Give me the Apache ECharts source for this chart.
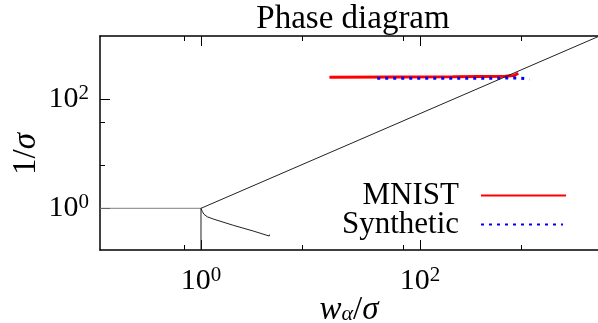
<!DOCTYPE html>
<html>
<head>
<meta charset="utf-8">
<script src="https://cdn.jsdelivr.net/npm/echarts@6/dist/echarts.min.js"></script>
<style>
  html, body { margin: 0; padding: 0; background: #fff; }
  #chart { width: 598px; height: 323px; }
</style>
</head>
<body>
<div id="chart"></div>
<script>
const FONT = '"Liberation Serif", "Times New Roman", serif';

// Phase boundary: upper branch leaving the critical point
const upperX = [1, 4223];
const upperY = [1, 1410];
// Flat branch left of the critical point
const flatX = [0.1196, 1];
const flatY = [1, 1];
// Vertical branch at w/sigma = 1
const vertX = [1, 1];
const vertY = [1, 0.1718];
// Lower branch
const lowerX = [1, 1.03, 1.065, 1.14, 1.29, 1.97, 3.0, 4.2, 4.23];
const lowerY = [1, 0.867, 0.776, 0.70, 0.637, 0.488, 0.383, 0.31, 0.33];

// Measured trajectories
const mnistX = [14.9, 200, 600, 720, 790];
const mnistY = [253, 258, 266, 272, 300];
const synthX = [40.7, 300, 800, 900, 996];
const synthY = [243, 244, 245, 240, 232];

// Axis ranges and ticks
const xRange = [0.1196, 4223];
const yRange = [0.1718, 1450];
const xMajorTicks = [1, 100];
const xMinorTicks = [0.70, 8.36, 70, 836];
const yMajorTicks = [1, 100];
const yMinorTicks = [6.23, 38.3];

const zip = (xs, ys) => xs.map((x, i) => [x, ys[i]]);

const powLabel = v => '{b|10}{e|' + Math.round(Math.log10(v)) + '}';
const powRich = {
  b: { fontFamily: FONT, fontSize: 30, lineHeight: 32, color: '#000' },
  e: { fontFamily: FONT, fontSize: 21, lineHeight: 18, verticalAlign: 'top', color: '#000' }
};

const frame = { show: true, lineStyle: { color: '#000', width: 1.5 } };

function xAxisDef(pos, ticks, len, withLine, withLabels) {
  const ax = {
    type: 'log', logBase: 10, min: xRange[0], max: xRange[1],
    position: pos, gridIndex: 0,
    axisLine: withLine ? frame : { show: false },
    axisTick: { show: true, inside: true, length: len, customValues: ticks,
                lineStyle: { color: '#000', width: 1 } },
    axisLabel: { show: false },
    splitLine: { show: false }, minorTick: { show: false }
  };
  if (withLabels) {
    ax.axisLabel = { show: true, customValues: ticks, formatter: powLabel,
                     rich: powRich, margin: 15 };
    ax.name = '{i|w}{s|α}{n|/}{i|σ}';
    ax.nameLocation = 'middle';
    ax.nameGap = 45;
    ax.nameMoveOverlap = false;
    ax.nameTextStyle = {
      rich: {
        i: { fontFamily: FONT, fontStyle: 'italic', fontSize: 33, lineHeight: 30, color: '#000' },
        n: { fontFamily: FONT, fontSize: 33, lineHeight: 30, color: '#000' },
        s: { fontFamily: FONT, fontStyle: 'italic', fontSize: 22, lineHeight: 18, verticalAlign: 'bottom', color: '#000' }
      }
    };
  }
  return ax;
}

function yAxisDef(ticks, len, withLine, withLabels) {
  const ax = {
    type: 'log', logBase: 10, min: yRange[0], max: yRange[1],
    position: 'left', gridIndex: 0,
    axisLine: withLine ? frame : { show: false },
    axisTick: { show: true, inside: true, length: len, customValues: ticks,
                lineStyle: { color: '#000', width: 1 } },
    axisLabel: { show: false },
    splitLine: { show: false }, minorTick: { show: false }
  };
  if (withLabels) {
    ax.axisLabel = { show: true, customValues: ticks, formatter: powLabel,
                     rich: powRich, margin: 11 };
    ax.name = '{n|1/}{i|σ}';
    ax.nameLocation = 'middle';
    ax.nameRotate = 90;
    ax.nameGap = 58;
    ax.nameMoveOverlap = false;
    ax.nameTextStyle = {
      padding: [0, 22, 0, 0],
      rich: {
        i: { fontFamily: FONT, fontStyle: 'italic', fontSize: 33, lineHeight: 32, color: '#000' },
        n: { fontFamily: FONT, fontSize: 33, lineHeight: 32, color: '#000' }
      }
    };
  }
  return ax;
}

function lineSeries(name, data, style, z) {
  return {
    name: name, type: 'line', data: data, xAxisIndex: 0, yAxisIndex: 0,
    symbol: 'none', showSymbol: false, silent: true, clip: true, z: z,
    itemStyle: { color: style.color },
    lineStyle: style, animation: false
  };
}

const boundary = { color: '#222', width: 1 };

const legendBase = {
  orient: 'vertical', align: 'right', itemHeight: 14, padding: 0,
  selectedMode: false, itemStyle: { opacity: 0 },
  textStyle: { fontFamily: FONT, fontSize: 31, color: '#000', padding: [0, 17, 0, 0] }
};

const chart = echarts.init(document.getElementById('chart'), null, { renderer: 'canvas' });
chart.setOption({
  animation: false,
  backgroundColor: '#fff',
  title: {
    text: 'Phase diagram', left: 353, top: 3, textAlign: 'center', padding: 0,
    textStyle: { fontFamily: FONT, fontSize: 33, fontWeight: 'normal', color: '#000' }
  },
  grid: { left: 100, right: 0, top: 36, bottom: 73, containLabel: false, outerBoundsMode: 'none' },
  xAxis: [
    xAxisDef('bottom', xMajorTicks, 10, true, true),
    xAxisDef('bottom', xMinorTicks, 5, false, false),
    xAxisDef('top', xMajorTicks, 10, true, false),
    xAxisDef('top', xMinorTicks, 5, false, false)
  ],
  yAxis: [
    yAxisDef(yMajorTicks, 10, true, true),
    yAxisDef(yMinorTicks, 5, false, false)
  ],
  legend: [
    Object.assign({}, legendBase, { data: ['MNIST'], right: 31, top: 180, itemWidth: 85 }),
    Object.assign({}, legendBase, { data: ['Synthetic'], right: 34, top: 209, itemWidth: 82 })
  ],
  series: [
    lineSeries('flat', zip(flatX, flatY), { color: '#808080', width: 1 }, 2),
    lineSeries('vertical', zip(vertX, vertY), boundary, 2),
    lineSeries('lower', zip(lowerX, lowerY), boundary, 2),
    lineSeries('MNIST', zip(mnistX, mnistY), { color: '#ff0000', width: 3 }, 3),
    lineSeries('Synthetic', zip(synthX, synthY), { color: '#0000ff', width: 3, type: [3, 5] }, 4),
    lineSeries('upper', zip(upperX, upperY), boundary, 5)
  ]
});
</script>
</body>
</html>
